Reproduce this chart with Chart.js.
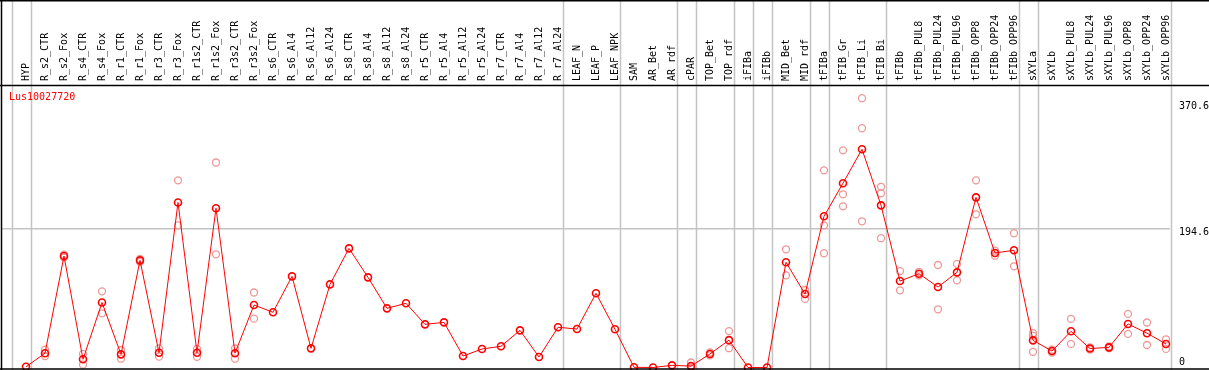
<!DOCTYPE html>
<html>
<head>
<meta charset="utf-8">
<script src="https://cdn.jsdelivr.net/npm/chart.js@4.4.0/dist/chart.umd.min.js"></script>
<style>
  html, body { margin: 0; padding: 0; background: #fff; }
  canvas { display: block; }
</style>
</head>
<body>
<canvas id="c" width="1209" height="370"></canvas>
<script>
const gene = 'Lus10027720';

const samples = [
    'HYP', 'R_s2_CTR', 'R_s2_Fox', 'R_s4_CTR', 'R_s4_Fox', 'R_r1_CTR', 'R_r1_Fox', 'R_r3_CTR', 'R_r3_Fox',
    'R_r1s2_CTR', 'R_r1s2_Fox', 'R_r3s2_CTR', 'R_r3s2_Fox', 'R_s6_CTR', 'R_s6_Al4', 'R_s6_Al12', 'R_s6_Al24',
    'R_s8_CTR', 'R_s8_Al4', 'R_s8_Al12', 'R_s8_Al24', 'R_r5_CTR', 'R_r5_Al4', 'R_r5_Al12', 'R_r5_Al24',
    'R_r7_CTR', 'R_r7_Al4', 'R_r7_Al12', 'R_r7_Al24', 'LEAF_N', 'LEAF_P', 'LEAF_NPK', 'SAM', 'AR_Bet', 'AR_rdf',
    'cPAR', 'TOP_Bet', 'TOP_rdf', 'iFIBa', 'iFIBb', 'MID_Bet', 'MID_rdf', 'tFIBa', 'tFIB_Gr', 'tFIB_Li', 'tFIB_Bi',
    'tFIBb', 'tFIBb_PUL8', 'tFIBb_PUL24', 'tFIBb_PUL96', 'tFIBb_OPP8', 'tFIBb_OPP24', 'tFIBb_OPP96',
    'sXYLa', 'sXYLb', 'sXYLb_PUL8', 'sXYLb_PUL24', 'sXYLb_PUL96', 'sXYLb_OPP8', 'sXYLb_OPP24', 'sXYLb_OPP96',
];

// mean expression per sample (the joined red line)
const meanVals = [
    1, 20, 156, 11.5, 91, 18.4, 150, 20.7, 231, 20.7, 223, 20, 87.5,
    77.3, 127.6, 26.8, 116.4, 166.8, 126.2, 82.8, 89.9, 60.4, 63.2, 16.1, 25.9, 29.7, 52, 14.7, 56.3, 53.9, 103.9, 53.5,
    0.3, 0, 3, 2, 19, 38.3, 0, 0, 147.3, 102.9, 211.7, 258, 305.5, 227,
    121, 131.3, 112.7, 133.2, 238.2, 160.3, 164.1, 38, 23, 50.7, 26.5, 28.2, 61, 48, 33,
];

// individual replicates (pale circles), null where there is none
const rep1 = [
    null, 25, 158, 19, 106.6, 24.5, 152, 26.8, 262, 26, 287, 26.8, 105,
    null, null, null, null, null, null, null, null, null, null, null,
    null, null, null, null, null, null, null, null, null, null, null,
    7, 21, 51, null, null, 165.5, 108.5, 276, 304, 377, 253,
    135, 134, 143.5, 145, 262, 163.5, 188, 48, 25, 68, 28, 29.5, 75, 63, 39.5,
];
const rep2 = [
    null, 16, 154, 4, 75.8, 12.3, 148, 15.2, 199, 15, 158.5, 12.3, 68.4,
    null, null, null, null, null, null, null, null, null, null, null,
    null, null, null, null, null, null, null, null, null, null, null,
    0, 17, 27, null, null, 129, 96, 199, 242.5, 335, 244,
    108, 129, 81.5, 122, 214.5, 156.5, 141.7, 44.5, 21, 33, 25, 27, 47, 31.5, 26,
];
const rep3 = [
    null, null, null, null, null, null, null, null, null, null, null, null, null,
    null, null, null, null, null, null, null, null, null, null, null,
    null, null, null, null, null, null, null, null, null, null, null,
    0, null, null, null, null, null, null, 160, 225.7, 204.7, 181,
    null, null, null, null, null, null, null, 22, null, null, null, null, null, null, null,
];

const yTicks = [0, 194.6, 370.6];
// index of the last sample in each group (-1 = left edge)
const groupEnds = [-1, 0, 28, 31, 34, 35, 37, 38, 39, 41, 42, 45, 52, 53, 60];

const MONO = '"DejaVu Sans Mono", "Liberation Mono", monospace';

const toXY = arr => arr.map((v, i) => ({ x: i, y: v }));
const repPoints = [rep1, rep2, rep3].flatMap(r => toXY(r).filter(p => p.y !== null));

// grey separators through header and plot, drawn under the data
const separators = {
    id: 'separators',
    beforeDatasetsDraw(chart) {
        const { ctx, scales: { x } } = chart;
        ctx.save();
        ctx.strokeStyle = '#c4c4c4';
        ctx.lineWidth = 1.5;
        groupEnds.forEach(g => {
            const px = Math.round(x.getPixelForValue(g + 0.24)) + 0.5;
            ctx.beginPath();
            ctx.moveTo(px, 0);
            ctx.lineTo(px, chart.height);
            ctx.stroke();
        });
        ctx.restore();
    },
};

// frame lines, gene name and right-hand value labels
const frame = {
    id: 'frame',
    afterDraw(chart) {
        const { ctx, chartArea: a, scales: { y } } = chart;
        const W = chart.width;
        ctx.save();
        ctx.strokeStyle = '#000';
        ctx.lineWidth = 1.5;
        ctx.beginPath();
        ctx.moveTo(0, 0.75); ctx.lineTo(W, 0.75);
        ctx.moveTo(0, a.top - 0.5); ctx.lineTo(W, a.top - 0.5);
        ctx.moveTo(0, 369); ctx.lineTo(W, 369);
        ctx.moveTo(1.5, 0); ctx.lineTo(1.5, chart.height);
        ctx.stroke();

        ctx.font = `10px ${MONO}`;
        ctx.textBaseline = 'middle';
        ctx.textAlign = 'left';
        ctx.fillStyle = '#ff0000';
        ctx.fillText(gene, 9, a.top + 11);

        ctx.fillStyle = '#000';
        yTicks.forEach(v => {
            const py = Math.min(y.getPixelForValue(v) + 4, 362);
            ctx.fillText(String(v), a.right + 9, py);
        });
        ctx.restore();
    },
};

new Chart(document.getElementById('c'), {
    type: 'line',
    data: {
        datasets: [
            {
                label: gene,
                data: toXY(meanVals),
                borderColor: '#ff0000',
                borderWidth: 1,
                pointRadius: 3.5,
                pointBorderWidth: 1.6,
                pointBorderColor: '#ff0000',
                pointBackgroundColor: 'rgba(0,0,0,0)',
                clip: false,
                order: 0,
            },
            {
                label: 'replicates',
                data: repPoints,
                showLine: false,
                pointRadius: 3.5,
                pointBorderWidth: 1.3,
                pointBorderColor: '#ee9898',
                pointBackgroundColor: 'rgba(0,0,0,0)',
                clip: false,
                order: 1,
            },
        ],
    },
    options: {
        responsive: false,
        animation: false,
        devicePixelRatio: 1,
        layout: { autoPadding: false, padding: { left: 1, right: 39, top: 0, bottom: 2 } },
        plugins: { legend: { display: false }, tooltip: { enabled: false } },
        scales: {
            x: {
                type: 'linear',
                position: 'top',
                min: -25 / 19,
                max: 60 + 4 / 19,
                afterBuildTicks: s => { s.ticks = samples.map((_, i) => ({ value: i })); },
                afterFit: s => { s.height = 86; s.paddingLeft = 0; s.paddingRight = 0; },
                grid: { display: false, drawTicks: false },
                border: { display: false },
                ticks: {
                    autoSkip: false,
                    minRotation: 90,
                    maxRotation: 90,
                    padding: 5,
                    labelOffset: 12,
                    color: '#000',
                    font: { family: MONO, size: 10 },
                    callback: v => samples[v] ?? '',
                },
            },
            y: {
                position: 'right',
                min: -0.7,
                max: 394.1,
                afterBuildTicks: s => { s.ticks = yTicks.map(v => ({ value: v })); },
                afterFit: s => { s.width = 0; s.paddingTop = 0; s.paddingBottom = 0; },
                grid: {
                    drawTicks: false,
                    lineWidth: 1.5,
                    color: c => (c.tick && c.tick.value === 194.6 ? '#c4c4c4' : 'rgba(0,0,0,0)'),
                },
                border: { display: false },
                ticks: { display: false },
            },
        },
    },
    plugins: [separators, frame],
});
</script>
</body>
</html>
